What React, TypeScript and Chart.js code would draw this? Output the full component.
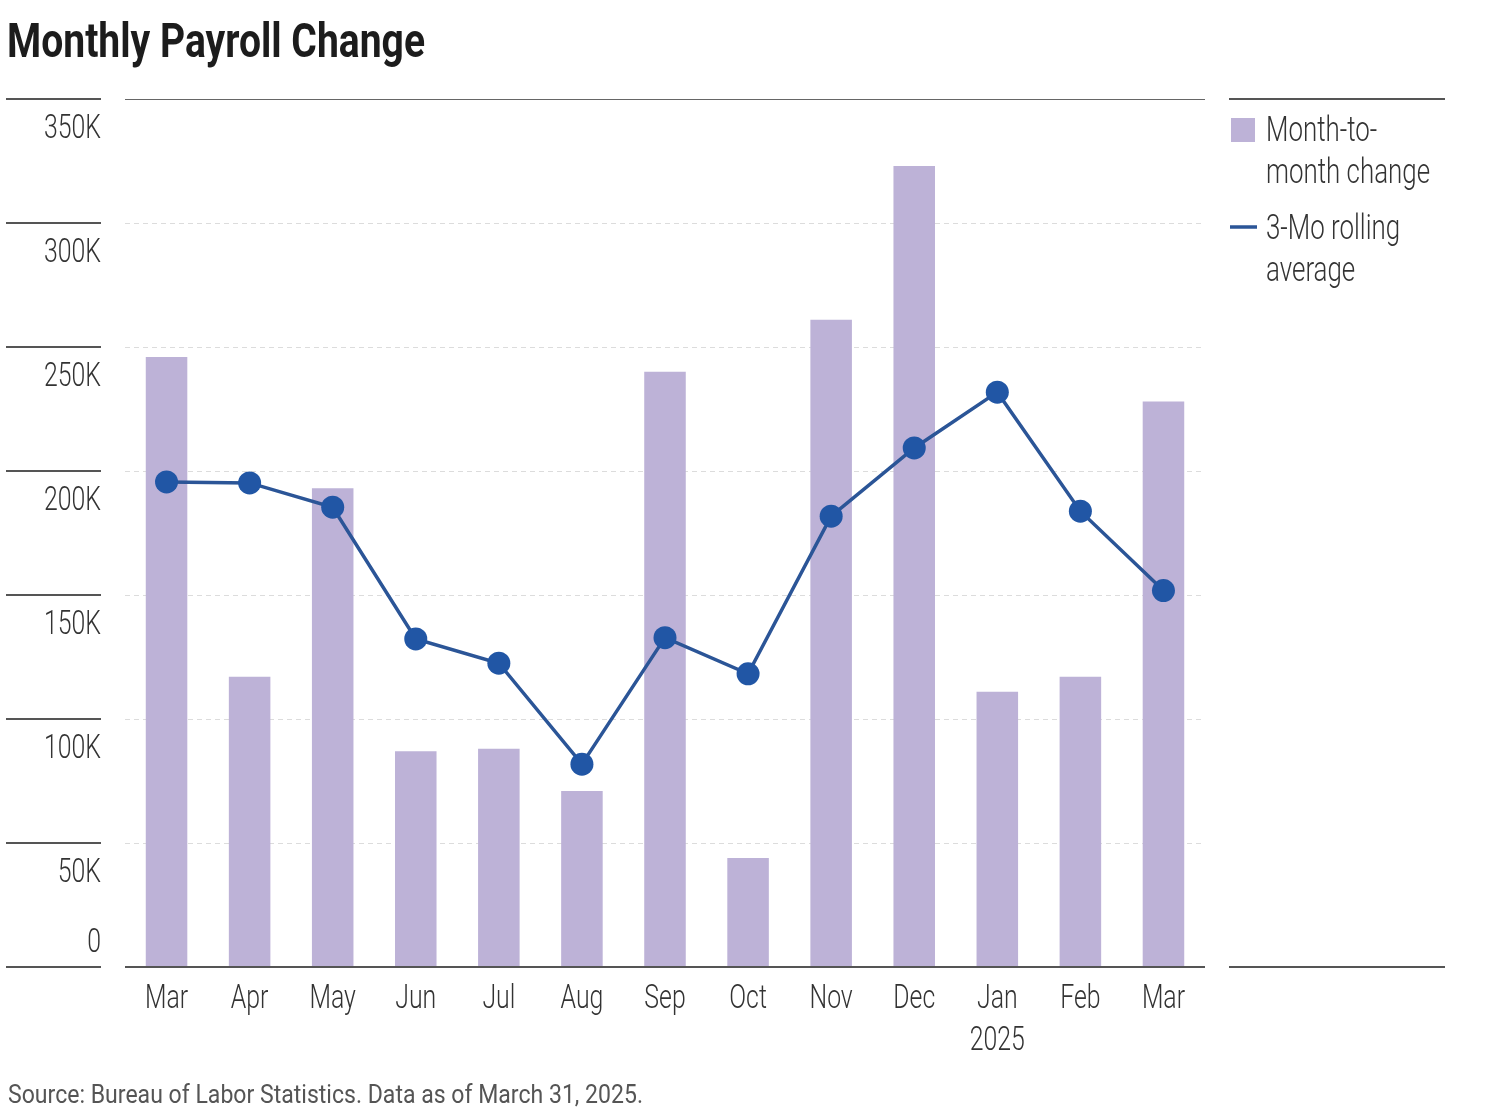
import React, { useEffect, useLayoutEffect, useRef } from "react";
import { Chart, registerables } from "chart.js";

Chart.register(...registerables);

// ---- data ----
const categories: string[][] = [
  ["Mar"], ["Apr"], ["May"], ["Jun"], ["Jul"], ["Aug"], ["Sep"],
  ["Oct"], ["Nov"], ["Dec"], ["Jan", "2025"], ["Feb"], ["Mar"],
];
const monthlyChange = [246, 117, 193, 87, 88, 71, 240, 44, 261, 323, 111, 117, 228];
const rollingAverage = [195.6, 195.2, 185.4, 132.3, 122.5, 81.8, 132.8, 118.2, 181.8, 209.3, 231.8, 183.8, 151.8];
const yTicks = [0, 50, 100, 150, 200, 250, 300, 350];
const yTickLabels = ["0", "50K", "100K", "150K", "200K", "250K", "300K", "350K"];
const seriesBarName = ["Month-to-", "month change"];
const seriesLineName = ["3-Mo rolling", "average"];
const titleText = "Monthly Payroll Change";
const sourceText = "Source: Bureau of Labor Statistics. Data as of March 31, 2025.";

// ---- style ----
const BAR_COLOR = "#bdb2d7";
const LINE_COLOR = "#2b5597";
const POINT_COLOR = "#2156a5";
const RULE_COLOR = "#555555";
const TEXT_COLOR = "#333333";
const AXIS_FONT = "300 34px Roboto";
const LEGEND_FONT = "300 35px Roboto";
const SX = 0.73;

function txt(ctx: CanvasRenderingContext2D, s: string, x: number, y: number, align: CanvasTextAlign, font: string, color: string, sx = SX) {
  ctx.save();
  ctx.font = font;
  ctx.fillStyle = color;
  ctx.textAlign = align;
  ctx.textBaseline = "alphabetic";
  ctx.translate(x, y);
  ctx.scale(sx, 1);
  ctx.fillText(s, 0, 0);
  ctx.restore();
}

function hline(ctx: CanvasRenderingContext2D, x1: number, x2: number, y: number, w: number, color: string, dash: number[] = []) {
  ctx.save();
  ctx.strokeStyle = color;
  ctx.lineWidth = w;
  ctx.setLineDash(dash);
  ctx.beginPath();
  ctx.moveTo(x1, y);
  ctx.lineTo(x2, y);
  ctx.stroke();
  ctx.restore();
}

const decorPlugin = {
  id: "decor",
  beforeDatasetsDraw(chart: any) {
    const { ctx, chartArea: a, scales } = chart;
    const x = scales.x;
    const y = scales.y;
    // y grid + left column
    yTicks.forEach((v, i) => {
      const py = Math.round(y.getPixelForValue(v));
      hline(ctx, 6, 101, py, 2, RULE_COLOR);
      if (v === yTicks[yTicks.length - 1]) {
        hline(ctx, a.left, a.right, py + 0.5, 1.2, "#666666");
      } else if (v !== 0) {
        hline(ctx, a.left, a.right, py + 0.5, 1, "#dcdcdc", [5, 4]);
      }
      const by = v === 0 ? py - 15 : py + 39;
      txt(ctx, yTickLabels[i], 101, by, "right", AXIS_FONT, TEXT_COLOR);
    });
    // x labels
    categories.forEach((lab, i) => {
      const px = x.getPixelForValue(i);
      lab.forEach((s, k) => {
        txt(ctx, s, px, a.bottom + 41 + k * 42, "center", AXIS_FONT, TEXT_COLOR);
      });
    });
    // legend
    const lx = a.right + 24;
    hline(ctx, lx, lx + 216, Math.round(a.top), 2, RULE_COLOR);
    hline(ctx, lx, lx + 216, Math.round(a.bottom), 2, RULE_COLOR);
    const ds = chart.data.datasets;
    const barDs = ds.find((d: any) => d.type === "bar");
    const lineDs = ds.find((d: any) => d.type === "line");
    ctx.save();
    ctx.fillStyle = barDs.backgroundColor;
    ctx.fillRect(lx + 2, a.top + 19, 24, 24);
    ctx.restore();
    seriesBarName.forEach((s, k) => txt(ctx, s, lx + 37, a.top + 42 + k * 42, "left", LEGEND_FONT, TEXT_COLOR, 0.74));
    ctx.save();
    ctx.strokeStyle = lineDs.borderColor;
    ctx.lineWidth = 3.5;
    ctx.beginPath();
    ctx.moveTo(lx + 1, a.top + 128);
    ctx.lineTo(lx + 28, a.top + 128);
    ctx.stroke();
    ctx.restore();
    seriesLineName.forEach((s, k) => txt(ctx, s, lx + 37, a.top + 140 + k * 42, "left", LEGEND_FONT, TEXT_COLOR, 0.74));
  },
  afterDatasetsDraw(chart: any) {
    const { ctx, chartArea: a, scales } = chart;
    const py = Math.round(scales.y.getPixelForValue(0));
    hline(ctx, a.left, a.right, py, 2, RULE_COLOR);
  },
};

function FitText({ text, width, style }: { text: string; width: number; style: React.CSSProperties }) {
  const ref = useRef<HTMLDivElement>(null);
  useLayoutEffect(() => {
    const el = ref.current;
    if (!el) return;
    el.style.transform = "none";
    const w = el.getBoundingClientRect().width;
    if (w > 0) el.style.transform = `scaleX(${width / w})`;
  }, [text, width]);
  return (
    <div
      ref={ref}
      style={{
        position: "absolute",
        whiteSpace: "nowrap",
        transformOrigin: "left top",
        display: "inline-block",
        margin: 0,
        ...style,
      }}
    >
      {text}
    </div>
  );
}

export default function App() {
  const canvasRef = useRef<HTMLCanvasElement>(null);

  useEffect(() => {
    const canvas = canvasRef.current;
    if (!canvas) return;
    const chart = new Chart(canvas, {
      type: "bar",
      data: {
        labels: categories,
        datasets: [
          {
            type: "line",
            label: "3-Mo rolling average",
            data: rollingAverage,
            borderColor: LINE_COLOR,
            borderWidth: 3.5,
            pointRadius: 11.5,
            pointHoverRadius: 11.5,
            pointBackgroundColor: POINT_COLOR,
            pointBorderColor: POINT_COLOR,
            pointBorderWidth: 0,
            tension: 0,
            fill: false,
            order: 0,
          } as any,
          {
            type: "bar",
            label: "Month-to-month change",
            data: monthlyChange,
            backgroundColor: BAR_COLOR,
            barPercentage: 0.5,
            categoryPercentage: 1,
            order: 1,
          } as any,
        ],
      },
      options: {
        responsive: false,
        animation: false,
        devicePixelRatio: 1,
        layout: { padding: { left: 125, right: 281, top: 99, bottom: 153 } },
        plugins: {
          legend: { display: false },
          title: { display: false },
          tooltip: { enabled: false },
        },
        events: [],
        scales: {
          x: { type: "category", display: false, offset: true },
          y: { type: "linear", display: false, min: 0, max: 350 },
        },
      },
      plugins: [decorPlugin],
    });
    return () => chart.destroy();
  }, []);

  return (
    <div style={{ position: "absolute", left: 0, top: 0, width: 1486, height: 1120, background: "#fff", overflow: "hidden" }}>
      <canvas ref={canvasRef} width={1486} height={1120} style={{ position: "absolute", left: 0, top: 0, width: 1486, height: 1120 }} />
      <FitText
        text={titleText}
        width={418}
        style={{ left: 7, top: 16, font: "700 49px Roboto", lineHeight: "49px", color: "#1c1c1c" }}
      />
      <FitText
        text={sourceText}
        width={635}
        style={{ left: 8, top: 1081, font: "400 26px Roboto", lineHeight: "26px", color: "#555555" }}
      />
    </div>
  );
}
